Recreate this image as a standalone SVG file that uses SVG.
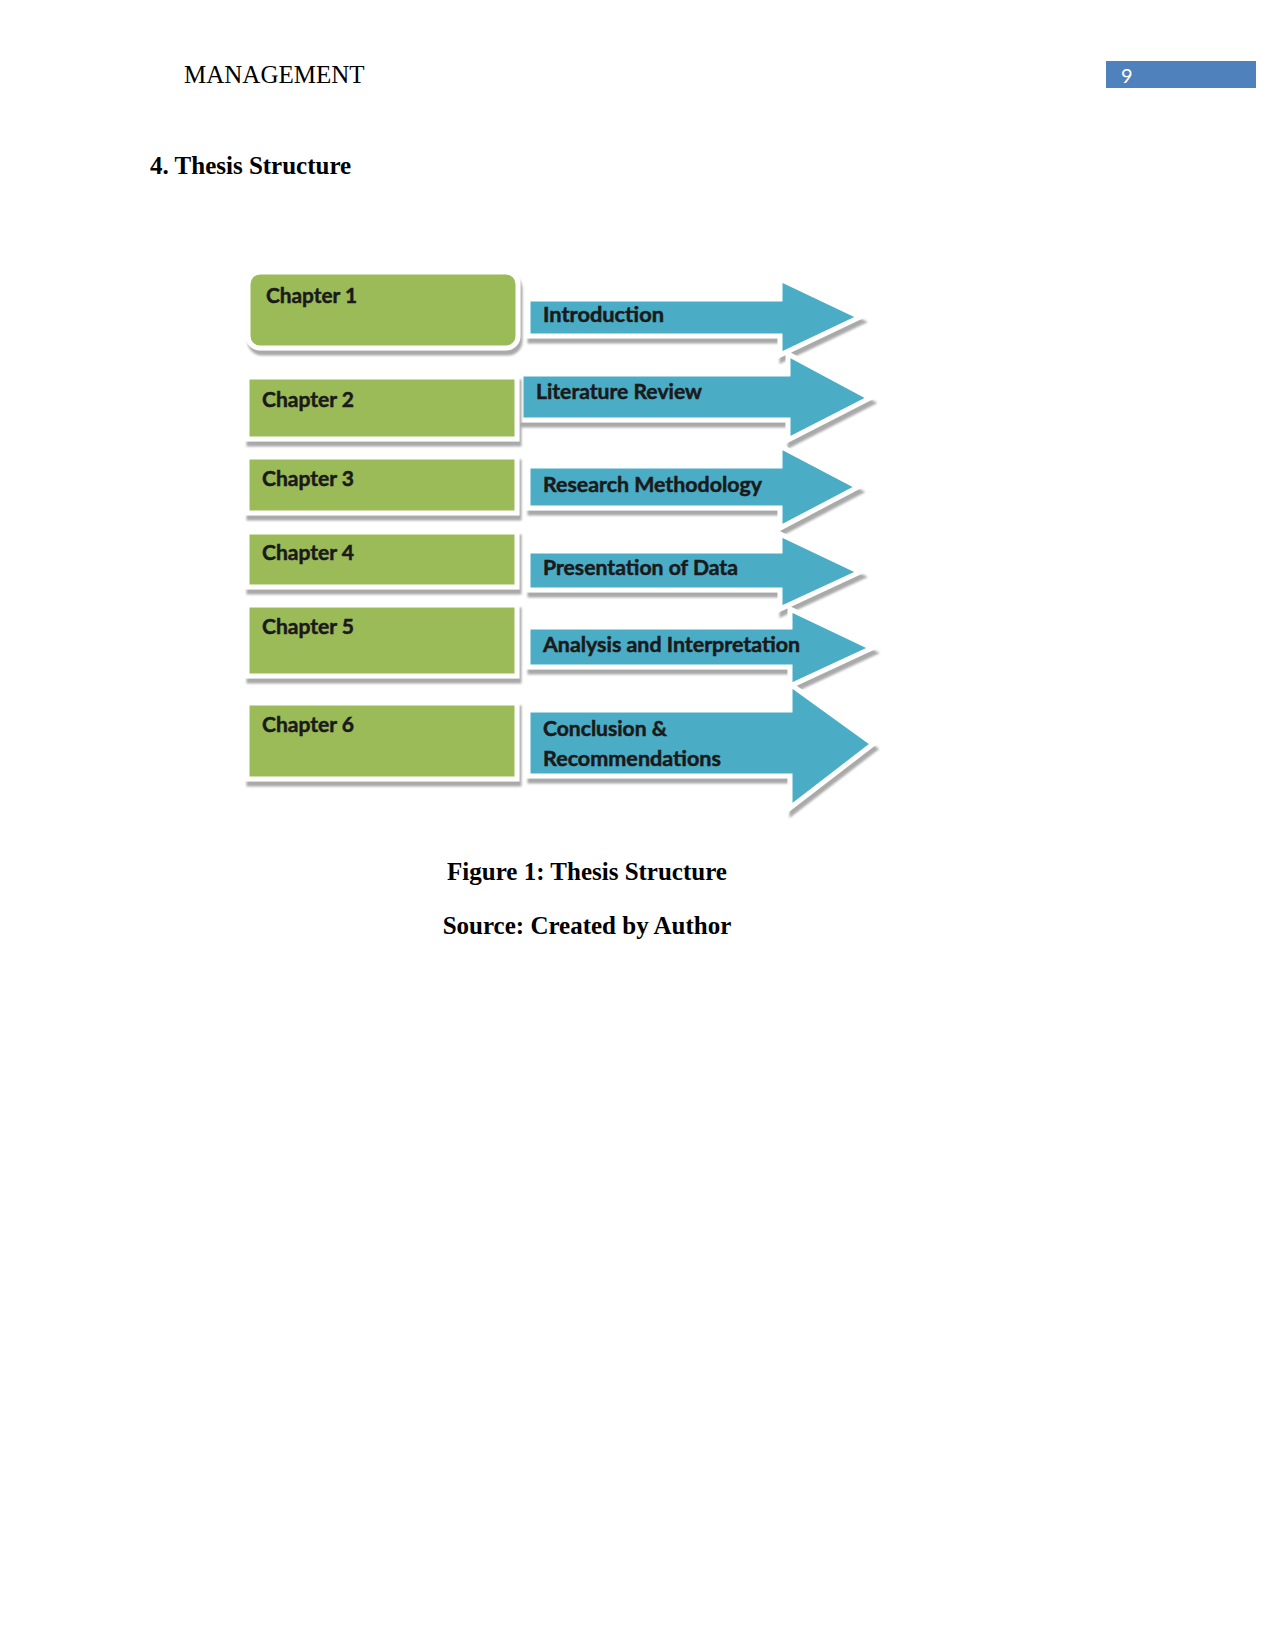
<svg xmlns="http://www.w3.org/2000/svg" width="1275" height="1651" viewBox="0 0 1275 1651">
<style>
.serif{font-family:"Liberation Serif","Times New Roman",serif;fill:#000}
.lbl{font-family:Lato,"Open Sans","Liberation Sans",sans-serif;font-weight:bold;font-size:21px;fill:#1a1a1a;stroke:#1a1a1a;stroke-width:0.5}
.box{fill:#9BBB59;stroke:#fff;stroke-width:5;filter:url(#sh)}
.arr{fill:#4BACC6;stroke:#fff;stroke-width:5;stroke-linejoin:miter;filter:url(#sh)}
</style>
<defs>
<filter id="sh" x="-10%" y="-20%" width="125%" height="150%">
<feDropShadow dx="2" dy="5" stdDeviation="1.2" flood-color="#9a9a9a" flood-opacity="0.85"/>
</filter>
</defs>
<rect width="1275" height="1651" fill="#fff"/>
<text class="serif" x="184" y="83" font-size="25">MANAGEMENT</text>
<rect x="1106" y="61" width="150" height="27" fill="#4F81BD"/>
<text x="1121" y="83" font-family="Lato,'Open Sans',sans-serif" font-size="20" fill="#fff">9</text>
<text class="serif" x="150" y="174" font-size="25" font-weight="bold">4. Thesis Structure</text>

<g id="connectors">
<g id="arrow1"><polygon class="arr" points="528,299 780,299 780,279 860,317 780,355 780,336 528,336"/>
<text class="lbl" x="543" y="322" textLength="121" lengthAdjust="spacingAndGlyphs">Introduction</text></g>
<g id="arrow2"><polygon class="arr" points="521,374 788,374 788,354 870,398 788,440 788,420 521,420"/>
<text class="lbl" x="536" y="399" textLength="166" lengthAdjust="spacingAndGlyphs">Literature Review</text></g>
<g id="arrow3"><polygon class="arr" points="528,466 780,466 780,446 858,487 780,528 780,508 528,508"/>
<text class="lbl" x="543" y="492" textLength="219" lengthAdjust="spacingAndGlyphs">Research Methodology</text></g>
<g id="arrow4"><polygon class="arr" points="528,551 780,551 780,534 860,572 780,609 780,590 528,590"/>
<text class="lbl" x="543" y="575" textLength="195" lengthAdjust="spacingAndGlyphs">Presentation of Data</text></g>
<g id="arrow5"><polygon class="arr" points="528,627 790,627 790,609 872,648 790,686 790,667 528,667"/>
<text class="lbl" x="543" y="652" textLength="257" lengthAdjust="spacingAndGlyphs">Analysis and Interpretation</text></g>
<g id="arrow6"><polygon class="arr" points="528,710 790,710 790,684 873,744 790,808 790,776 528,776"/>
<text class="lbl" x="543" y="736" textLength="124" lengthAdjust="spacingAndGlyphs">Conclusion &amp;</text>
<text class="lbl" x="543" y="766" textLength="178" lengthAdjust="spacingAndGlyphs">Recommendations</text></g>
</g>

<g id="chapter1"><rect class="box" x="248" y="272" width="270" height="76" rx="12"/>
<text class="lbl" x="266" y="303" textLength="91" lengthAdjust="spacingAndGlyphs">Chapter 1</text></g>
<g id="chapter2"><rect class="box" x="247" y="377" width="270" height="62"/>
<text class="lbl" x="262" y="407" textLength="92" lengthAdjust="spacingAndGlyphs">Chapter 2</text></g>
<g id="chapter3"><rect class="box" x="247" y="457" width="270" height="56"/>
<text class="lbl" x="262" y="486" textLength="92" lengthAdjust="spacingAndGlyphs">Chapter 3</text></g>
<g id="chapter4"><rect class="box" x="247" y="532" width="270" height="55"/>
<text class="lbl" x="262" y="560" textLength="92" lengthAdjust="spacingAndGlyphs">Chapter 4</text></g>
<g id="chapter5"><rect class="box" x="247" y="605" width="270" height="71"/>
<text class="lbl" x="262" y="634" textLength="92" lengthAdjust="spacingAndGlyphs">Chapter 5</text></g>
<g id="chapter6"><rect class="box" x="247" y="703" width="270" height="76"/>
<text class="lbl" x="262" y="732" textLength="92" lengthAdjust="spacingAndGlyphs">Chapter 6</text></g>

<text class="serif" x="587" y="880" font-size="25" font-weight="bold" text-anchor="middle">Figure 1: Thesis Structure</text>
<text class="serif" x="587" y="934" font-size="25" font-weight="bold" text-anchor="middle">Source: Created by Author</text>
</svg>
